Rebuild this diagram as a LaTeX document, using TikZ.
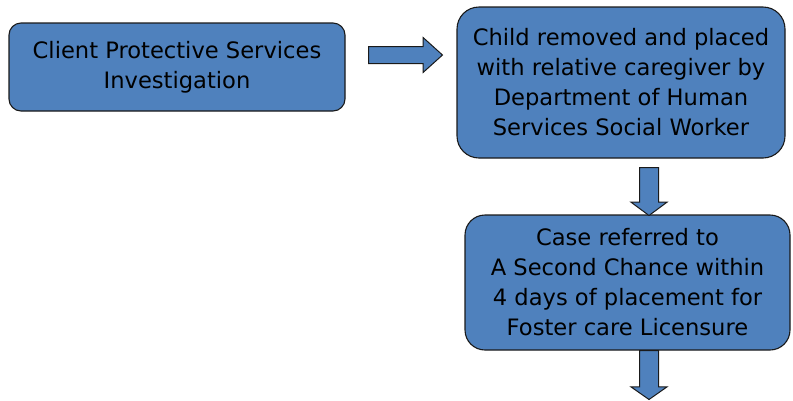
\documentclass[tikz,border=0pt]{standalone}
\usepackage{fontspec}
\setmainfont{DejaVu Sans}
\usepackage{xcolor}
\usetikzlibrary{shapes.arrows,positioning}
\definecolor{boxblue}{HTML}{4F81BD}
\definecolor{edgegray}{HTML}{1A1A1A}
\tikzset{
	stepbox/.style={draw=edgegray, fill=boxblue, line width=1.1pt, align=center,
		font=\fontsize{22.6}{30}\selectfont, inner sep=0pt},
	blockarrow/.style={single arrow, draw=edgegray, fill=boxblue, line width=1pt,
		single arrow head indent=0pt, anchor=tail}
}

\begin{document}
\begin{tikzpicture}[x=1pt,y=-1pt]
		\useasboundingbox (0,0) rectangle (793,400);
		\node[stepbox, minimum width=336, minimum height=88, rounded corners=12] (cps) at (177,67)
			{Client Protective Services\\Investigation};
		\node[stepbox, minimum width=328, minimum height=151, rounded corners=22] (placed) at (621,82.5)
			{Child removed and placed\\with relative caregiver by\\Department of Human\\Services Social Worker};
		\node[stepbox, minimum width=325, minimum height=135, rounded corners=20] (referred) at (627.5,282.5)
			{Case referred to\\A Second Chance within\\4 days of placement for\\Foster care Licensure};
		%
		% block arrows
		\node[blockarrow, inner sep=8pt, minimum height=74, single arrow head extend=9,
			single arrow tip angle=84] (toplaced) at (368,55) {};
		\node[blockarrow, inner sep=9pt, shape border rotate=270, minimum height=48,
			single arrow head extend=8.5, single arrow tip angle=107] (toreferred) at (649,167) {};
		\node[blockarrow, inner sep=9pt, shape border rotate=270, minimum height=49,
			single arrow head extend=8.5, single arrow tip angle=110] (tonext) at (649,350) {};
	\end{tikzpicture}
\end{document}
